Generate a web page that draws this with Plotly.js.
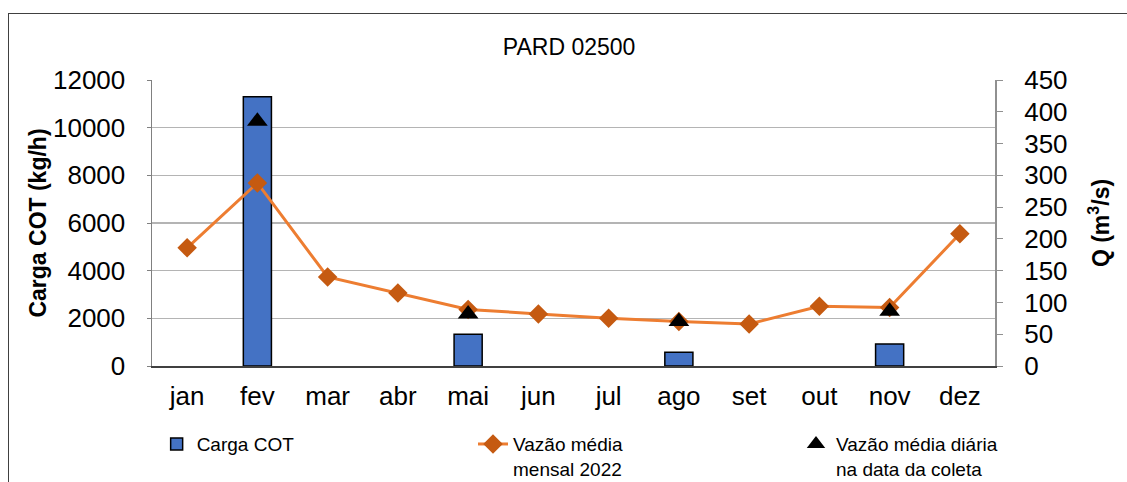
<!DOCTYPE html>
<html>
<head>
<meta charset="utf-8">
<script src="https://cdn.plot.ly/plotly-3.0.1.min.js"></script>
<style>
  html, body { margin: 0; padding: 0; background: #fff; }
  #wrap { position: relative; width: 1127px; height: 482px; overflow: hidden; }
  #chart { width: 1127px; height: 482px; }
  #frame { position: absolute; left: 8px; top: 13px; width: 1200px; height: 600px; border: 1px solid #404040; pointer-events: none; }
</style>
</head>
<body>
<div id="wrap">
  <div id="chart"></div>
  <div id="frame"></div>
</div>
<script>
const months = ["jan","fev","mar","abr","mai","jun","jul","ago","set","out","nov","dez"];
const cargaCOT = [null, 11300, null, null, 1330, null, null, 575, null, null, 925, null];
const vazaoMensal = [186, 288, 140, 115, 89, 82, 75, 70, 66, 94, 92, 208];
const vazaoDiaria = [null, 385, null, null, 82, null, null, 70, null, null, 86, null];
const leftTicks = [0, 2000, 4000, 6000, 8000, 10000, 12000];
const rightTicks = [0, 50, 100, 150, 200, 250, 300, 350, 400, 450];

const font = "Liberation Sans, Arial, sans-serif";

const traces = [
  {
    type: "bar", name: "Carga COT", x: months, y: cargaCOT,
    marker: { color: "#4472C4", line: { color: "#000", width: 1.5 } },
    yaxis: "y", legend: "legend"
  },
  {
    type: "scatter", mode: "lines+markers", name: "Vazão média<br>mensal 2022",
    x: months, y: vazaoMensal, yaxis: "y2", legend: "legend2",
    line: { color: "#ED7D31", width: 3 },
    marker: { symbol: "diamond", size: 15, color: "#C55A11" }
  },
  {
    type: "scatter", mode: "markers", name: "Vazão média diária<br>na data da coleta",
    x: months, y: vazaoDiaria, yaxis: "y2", legend: "legend3",
    marker: { symbol: "triangle-up", size: 18, color: "#000" }
  }
];

function leg(x) {
  return {
    orientation: "h", xref: "container", yref: "container",
    x: x, xanchor: "left", y: 0.118, yanchor: "top", valign: "top",
    font: { family: font, size: 19, color: "#000" },
    bgcolor: "rgba(0,0,0,0)"
  };
}

const layout = {
  width: 1127, height: 482,
  margin: { l: 152, r: 132, t: 80, b: 116 },
  paper_bgcolor: "#fff", plot_bgcolor: "#fff",
  font: { family: font, color: "#000", size: 20 },
  showlegend: true,
  title: { text: "PARD 02500", font: { family: font, size: 23, color: "#000" },
           x: 0.505, xanchor: "center", y: 0.902, yanchor: "middle", yref: "container" },
  bargap: 0.6,
  xaxis: {
    type: "category", range: [-0.5, 11.5], autorange: false,
    showgrid: false, zeroline: false,
    showline: true, linecolor: "#404040", linewidth: 1.5,
    tickfont: { family: font, size: 26, color: "#000" }, ticks: "", ticklabelstandoff: 6
  },
  yaxis: {
    range: [0, 12000], tickvals: leftTicks, tickformat: "d",
    showgrid: true, gridcolor: "#b4b4b4", gridwidth: 1.5, zeroline: false,
    showline: true, linecolor: "#808080", linewidth: 1.5,
    ticks: "outside", ticklen: 4, tickcolor: "#808080", ticklabelstandoff: 16,
    tickfont: { family: font, size: 26, color: "#000" },
    title: { text: "<b>Carga COT (kg/h)</b>", font: { family: font, size: 23, color: "#000" }, standoff: 0 }
  },
  yaxis2: {
    overlaying: "y", side: "right", range: [0, 450],
    tickvals: rightTicks,
    showgrid: false, zeroline: false,
    showline: true, linecolor: "#909090", linewidth: 2,
    ticks: "outside", ticklen: 6, tickcolor: "#909090", ticklabelstandoff: 16,
    tickfont: { family: font, size: 26, color: "#000" },
    title: { text: "<b>Q (m<sup>3</sup>/s)</b>", font: { family: font, size: 23, color: "#000" }, standoff: 26 }
  },
  legend: leg(0.139),
  legend2: leg(0.4197),
  legend3: leg(0.7063)
};

Plotly.newPlot("chart", traces, layout, { displayModeBar: false, staticPlot: true });
</script>
</body>
</html>
